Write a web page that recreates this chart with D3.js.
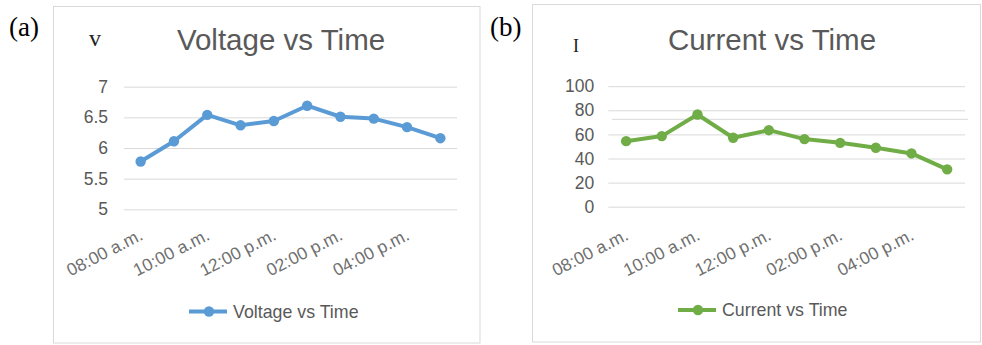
<!DOCTYPE html>
<html><head><meta charset="utf-8">
<script src="https://cdn.jsdelivr.net/npm/d3@7"></script>
<style>html,body{margin:0;padding:0;background:#fff;}svg{display:block;}</style>
</head><body>
<svg id="c" width="982" height="345"></svg>
<script>
const times = ["08:00 a.m.","09:00 a.m.","10:00 a.m.","11:00 a.m.","12:00 p.m.","01:00 p.m.","02:00 p.m.","03:00 p.m.","04:00 p.m.","05:00 p.m."];
const voltage = [5.78, 6.11, 6.54, 6.37, 6.44, 6.69, 6.51, 6.48, 6.34, 6.16];
const current = [54.4, 58.6, 76.5, 57.2, 63.5, 56.1, 53.0, 48.9, 44.2, 31.0];
const voltageTicks = [5, 5.5, 6, 6.5, 7];
const currentTicks = [0, 20, 40, 60, 80, 100];

const svg = d3.select("#c");
const sans = "'Liberation Sans', Arial, sans-serif";
const serif = "'Liberation Serif', 'Times New Roman', serif";

function panel(o) {
  const g = svg.append("g");
  g.append("rect").attr("x", o.box[0]).attr("y", o.box[1]).attr("width", o.box[2]).attr("height", o.box[3])
    .attr("fill", "#fff").attr("stroke", "#d9d9d9").attr("stroke-width", 1);
  g.append("text").attr("x", o.tag[0]).attr("y", o.tag[1]).text(o.tagText)
    .attr("font-family", serif).attr("font-size", 27).attr("fill", "#000");
  g.append("text").attr("x", o.unit[0]).attr("y", o.unit[1]).text(o.unitText)
    .attr("font-family", serif).attr("font-size", o.unitSize).attr("fill", "#222");
  g.append("text").attr("x", o.title[0]).attr("y", o.title[1]).text(o.titleText)
    .attr("text-anchor", "middle").attr("font-family", sans).attr("font-size", 29.5).attr("fill", "#595959");

  const x = d3.scalePoint().domain(times).range(o.xr).padding(0.5);
  const y = d3.scaleLinear().domain(o.yd).range(o.yr);

  const ax = d3.axisLeft(y).tickValues(o.ticks).tickSize(-(o.xr[1] - o.xr[0])).tickPadding(o.pad).tickFormat(d3.format("~g"));
  const ga = g.append("g").attr("transform", `translate(${o.xr[0]},0)`).call(ax);
  ga.select(".domain").remove();
  ga.selectAll(".tick line").attr("stroke", "#d9d9d9");
  ga.selectAll(".tick text").attr("font-family", sans).attr("font-size", 17.5).attr("fill", "#595959");

  if (o.extra) {
    g.append("line").attr("x1", o.extra[0]).attr("x2", o.extra[1]).attr("y1", o.extra[2]).attr("y2", o.extra[2])
      .attr("stroke", "#d9d9d9").attr("stroke-width", 1);
  }

  const xa = d3.axisBottom(x).tickSize(0).tickFormat((d, i) => i % 2 === 0 ? d : "");
  const gx = g.append("g").attr("transform", `translate(0,${o.xly})`).call(xa);
  gx.select(".domain").remove();
  gx.selectAll(".tick text").attr("font-family", sans).attr("font-size", 17.5).attr("fill", "#6f6f6f")
    .attr("text-anchor", "end").attr("dy", 0).attr("y", 0).attr("x", 0)
    .attr("transform", "translate(3,0) rotate(-27)");

  const line = d3.line().x((d, i) => x(times[i])).y(d => y(d));
  g.append("path").datum(o.vals).attr("d", line).attr("fill", "none")
    .attr("stroke", o.color).attr("stroke-width", 4).attr("stroke-linejoin", "round");
  g.selectAll(null).data(o.vals).enter().append("circle")
    .attr("cx", (d, i) => x(times[i])).attr("cy", d => y(d)).attr("r", 5.2).attr("fill", o.color);

  const lg = g.append("g");
  lg.append("line").attr("x1", o.leg[0]).attr("x2", o.leg[0] + 38).attr("y1", o.leg[1]).attr("y2", o.leg[1])
    .attr("stroke", o.color).attr("stroke-width", 4);
  lg.append("circle").attr("cx", o.leg[0] + 20).attr("cy", o.leg[1]).attr("r", 5.2).attr("fill", o.color);
  lg.append("text").attr("x", o.leg[0] + 44).attr("y", o.leg[1] + 6).text(o.titleText)
    .attr("font-family", sans).attr("font-size", 17.8).attr("fill", "#595959");
}

panel({
  box: [53.5, 6.5, 426.5, 336.5], tag: [9, 36], tagText: "(a)", unit: [89, 46], unitText: "v", unitSize: 24,
  title: [281, 50], titleText: "Voltage vs Time",
  xr: [124, 457], yd: [5, 7], yr: [209.3, 86.7], ticks: voltageTicks, pad: 16,
  xly: 239, vals: voltage, color: "#5b9bd5", leg: [189, 311.5]
});
panel({
  box: [532.5, 4.5, 448, 337.5], tag: [490, 36], tagText: "(b)", unit: [573, 51.5], unitText: "I", unitSize: 18,
  title: [772, 50], titleText: "Current vs Time",
  xr: [608.3, 965], yd: [0, 100], yr: [206.7, 86.2], ticks: currentTicks, pad: 14,
  xly: 239, vals: current, color: "#70ad47", leg: [678, 310], extra: [612, 968, 119.3]
});
</script>
</body></html>
